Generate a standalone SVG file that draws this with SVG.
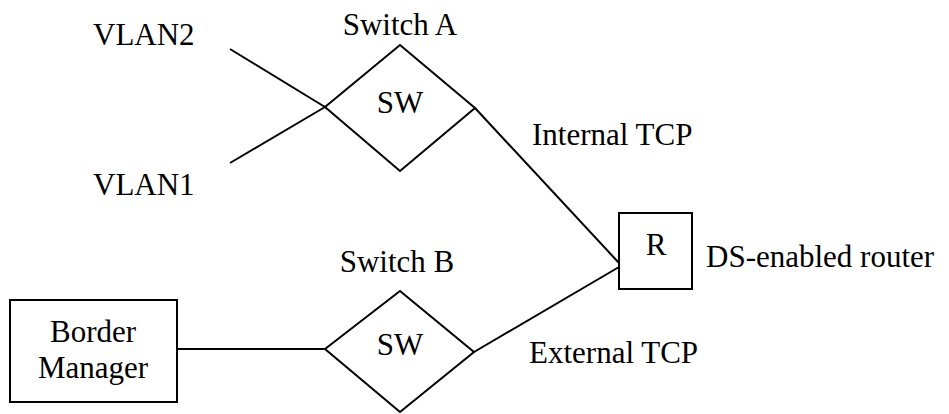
<svg xmlns="http://www.w3.org/2000/svg" width="949" height="414" viewBox="0 0 949 414">
  <style>
    .ln { stroke: #000; stroke-width: 2; fill: none; }
    .shape { stroke: #000; stroke-width: 2; fill: #fff; }
    .t { font-family: 'Liberation Serif', 'Times New Roman', serif; font-size: 31px; fill: #000; }
    .c { text-anchor: middle; }
  </style>
  <rect width="949" height="414" fill="#fff"/>

  <!-- links -->
  <g id="connectors">
    <line class="ln" x1="230" y1="49" x2="325" y2="107"/>
    <line class="ln" x1="230" y1="163" x2="325" y2="107"/>
    <line class="ln" x1="475" y1="108" x2="619" y2="263"/>
    <line class="ln" x1="474" y1="352" x2="619" y2="267"/>
    <line class="ln" x1="177" y1="349" x2="325" y2="349"/>
  </g>

  <!-- free labels -->
  <g id="vlan2"><text class="t" x="93" y="45">VLAN2</text></g>
  <g id="vlan1"><text class="t" x="93" y="195">VLAN1</text></g>
  <text class="t" x="532" y="145">Internal TCP</text>
  <text class="t" x="529" y="363">External TCP</text>

  <g id="switch-a">
    <text class="t c" x="400" y="35">Switch A</text>
    <polygon class="shape" points="325,107 400,45 475,108 400,171"/>
    <text class="t c" x="400" y="113">SW</text>
  </g>

  <g id="switch-b">
    <text class="t c" x="397" y="272">Switch B</text>
    <polygon class="shape" points="325,349 400,291 474,352 400,412"/>
    <text class="t c" x="400" y="355">SW</text>
  </g>

  <g id="router">
    <rect class="shape" x="619" y="213" width="73" height="76"/>
    <text class="t c" x="656" y="255">R</text>
    <text class="t" x="706" y="267">DS-enabled router</text>
  </g>

  <g id="border-manager">
    <rect class="shape" x="10" y="300" width="167" height="102"/>
    <text class="t c" x="93" y="342">Border</text>
    <text class="t c" x="93" y="378">Manager</text>
  </g>
</svg>
